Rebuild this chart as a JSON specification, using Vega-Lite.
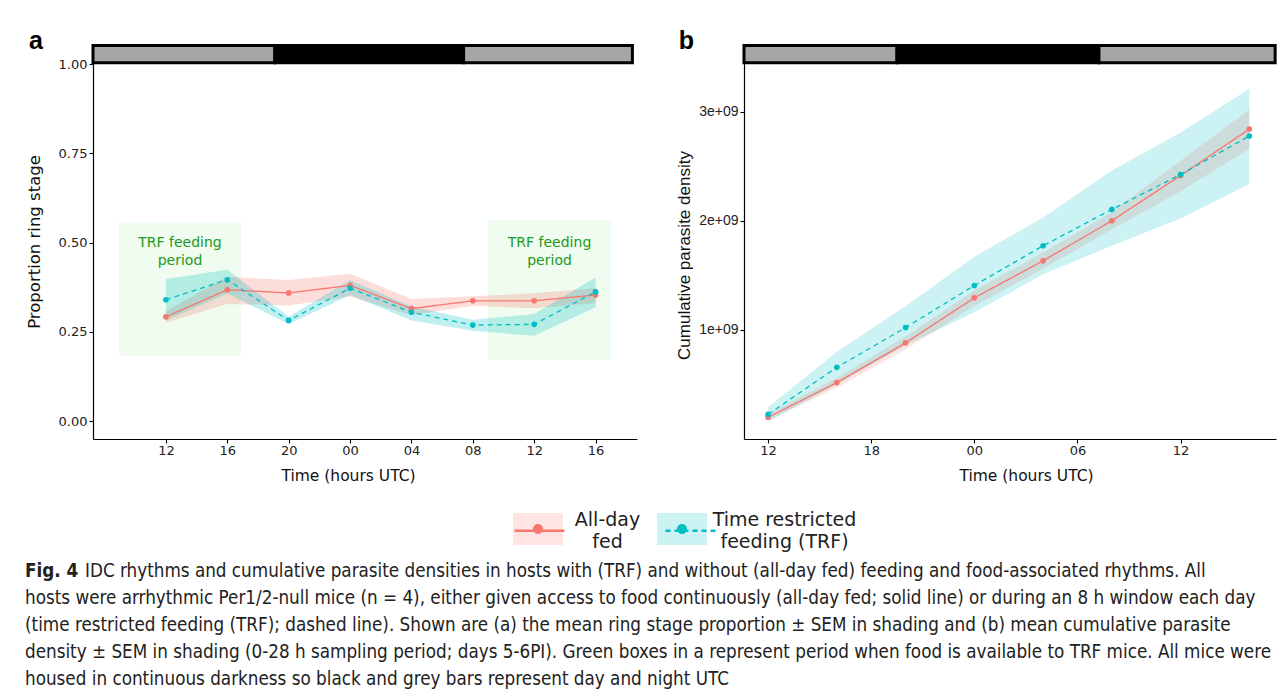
{
  "$schema": "https://vega.github.io/schema/vega-lite/v6.json",
  "padding": {"left": 25, "top": 29, "right": 5, "bottom": 5},
  "background": "white",
  "datasets": {
    "ring": [
      {"t": 0, "group": "All-day fed", "mean": 0.292, "lo": 0.276, "hi": 0.308},
      {"t": 4, "group": "All-day fed", "mean": 0.368, "lo": 0.328, "hi": 0.404},
      {"t": 8, "group": "All-day fed", "mean": 0.359, "lo": 0.324, "hi": 0.395},
      {"t": 12, "group": "All-day fed", "mean": 0.380, "lo": 0.349, "hi": 0.413},
      {"t": 16, "group": "All-day fed", "mean": 0.315, "lo": 0.297, "hi": 0.342},
      {"t": 20, "group": "All-day fed", "mean": 0.337, "lo": 0.323, "hi": 0.350},
      {"t": 24, "group": "All-day fed", "mean": 0.337, "lo": 0.316, "hi": 0.358},
      {"t": 28, "group": "All-day fed", "mean": 0.353, "lo": 0.331, "hi": 0.372},
      {"t": 0, "group": "Time restricted feeding (TRF)", "mean": 0.340, "lo": 0.282, "hi": 0.398},
      {"t": 4, "group": "Time restricted feeding (TRF)", "mean": 0.396, "lo": 0.358, "hi": 0.424},
      {"t": 8, "group": "Time restricted feeding (TRF)", "mean": 0.282, "lo": 0.272, "hi": 0.292},
      {"t": 12, "group": "Time restricted feeding (TRF)", "mean": 0.372, "lo": 0.353, "hi": 0.395},
      {"t": 16, "group": "Time restricted feeding (TRF)", "mean": 0.305, "lo": 0.282, "hi": 0.321},
      {"t": 20, "group": "Time restricted feeding (TRF)", "mean": 0.269, "lo": 0.253, "hi": 0.284},
      {"t": 24, "group": "Time restricted feeding (TRF)", "mean": 0.271, "lo": 0.239, "hi": 0.300},
      {"t": 28, "group": "Time restricted feeding (TRF)", "mean": 0.362, "lo": 0.319, "hi": 0.402}
    ],
    "cum": [
      {"t": 0, "group": "All-day fed", "mean": 1.99e8, "lo": 1.7e8, "hi": 2.3e8},
      {"t": 4, "group": "All-day fed", "mean": 5.17e8, "lo": 4.7e8, "hi": 5.6e8},
      {"t": 8, "group": "All-day fed", "mean": 8.81e8, "lo": 8.2e8, "hi": 9.4e8},
      {"t": 12, "group": "All-day fed", "mean": 1.294e9, "lo": 1.22e9, "hi": 1.36e9},
      {"t": 16, "group": "All-day fed", "mean": 1.633e9, "lo": 1.56e9, "hi": 1.71e9},
      {"t": 20, "group": "All-day fed", "mean": 2.0e9, "lo": 1.92e9, "hi": 2.08e9},
      {"t": 24, "group": "All-day fed", "mean": 2.415e9, "lo": 2.27e9, "hi": 2.55e9},
      {"t": 28, "group": "All-day fed", "mean": 2.84e9, "lo": 2.66e9, "hi": 3.02e9},
      {"t": 0, "group": "Time restricted feeding (TRF)", "mean": 2.26e8, "lo": 1.6e8, "hi": 2.9e8},
      {"t": 4, "group": "Time restricted feeding (TRF)", "mean": 6.57e8, "lo": 5.0e8, "hi": 8.0e8},
      {"t": 8, "group": "Time restricted feeding (TRF)", "mean": 1.021e9, "lo": 8.6e8, "hi": 1.22e9},
      {"t": 12, "group": "Time restricted feeding (TRF)", "mean": 1.407e9, "lo": 1.16e9, "hi": 1.67e9},
      {"t": 16, "group": "Time restricted feeding (TRF)", "mean": 1.771e9, "lo": 1.51e9, "hi": 2.03e9},
      {"t": 20, "group": "Time restricted feeding (TRF)", "mean": 2.104e9, "lo": 1.77e9, "hi": 2.46e9},
      {"t": 24, "group": "Time restricted feeding (TRF)", "mean": 2.424e9, "lo": 2.02e9, "hi": 2.81e9},
      {"t": 28, "group": "Time restricted feeding (TRF)", "mean": 2.777e9, "lo": 2.34e9, "hi": 3.21e9}
    ],
    "trfBoxes": [
      {"start": -3.06, "end": 4.9, "low": 0.183, "high": 0.557, "mid": 0.92, "label": "TRF feeding\nperiod"},
      {"start": 21.0, "end": 29.0, "low": 0.171, "high": 0.563, "mid": 25.0, "label": "TRF feeding\nperiod"}
    ],
    "phaseA": [
      {"start": -4.75, "end": 7.1, "phase": "day"},
      {"start": 7.1, "end": 19.4, "phase": "night"},
      {"start": 19.4, "end": 30.4, "phase": "day"}
    ],
    "phaseB": [
      {"start": -1.4, "end": 7.5, "phase": "day"},
      {"start": 7.5, "end": 19.25, "phase": "night"},
      {"start": 19.25, "end": 29.5, "phase": "day"}
    ],
    "figLabel": [{"line": 1, "text": "Fig. 4"}],
    "caption": [
      {"line": 1, "text": "IDC rhythms and cumulative parasite densities in hosts with (TRF) and without (all-day fed) feeding and food-associated rhythms. All"},
      {"line": 2, "text": "hosts were arrhythmic Per1/2-null mice (n = 4), either given access to food continuously (all-day fed; solid line) or during an 8 h window each day"},
      {"line": 3, "text": "(time restricted feeding (TRF); dashed line). Shown are (a) the mean ring stage proportion ± SEM in shading and (b) mean cumulative parasite"},
      {"line": 4, "text": "density ± SEM in shading (0-28 h sampling period; days 5-6PI). Green boxes in a represent period when food is available to TRF mice. All mice were"},
      {"line": 5, "text": "housed in continuous darkness so black and grey bars represent day and night UTC"}
    ]
  },
  "vconcat": [
    {
      "hconcat": [
        {
          "width": 544,
          "height": 395,
          "title": {"text": "a", "anchor": "start", "frame": "bounds", "font": "Liberation Sans", "fontSize": 25, "fontWeight": "bold", "color": "black", "offset": -30, "baseline": "alphabetic", "dx": 3},
          "layer": [
            {
              "data": {"name": "trfBoxes"},
              "mark": {"type": "rect", "color": "#effcef"},
              "encoding": {
                "x": {"field": "start", "type": "quantitative",
                      "scale": {"domain": [-4.75, 30.7], "nice": false, "zero": false},
                      "axis": {"title": "Time (hours UTC)", "values": [0, 4, 8, 12, 16, 20, 24, 28], "labelExpr": "format((12 + datum.value) % 24, '02d')", "labelFont": "DejaVu Sans", "labelFontSize": 13, "titleFont": "DejaVu Sans", "titleFontSize": 15.5, "titleX": 255, "labelPadding": 1, "titlePadding": 11, "labelFlush": false}},
                "x2": {"field": "end"},
                "y": {"field": "low", "type": "quantitative",
                      "scale": {"domain": [-0.05, 1.056], "nice": false, "zero": false},
                      "axis": {"title": "Proportion ring stage", "values": [0, 0.25, 0.5, 0.75, 1], "format": ".2f", "labelFont": "DejaVu Sans", "labelFontSize": 13, "titleFont": "DejaVu Sans", "titleFontSize": 16.5, "titlePadding": 16, "labelPadding": 2}},
                "y2": {"field": "high"}
              }
            },
            {
              "data": {"name": "trfBoxes"},
              "mark": {"type": "text", "lineBreak": "\n", "color": "#229922", "font": "DejaVu Sans", "fontSize": 14, "lineHeight": 18, "baseline": "middle"},
              "encoding": {
                "x": {"field": "mid", "type": "quantitative"},
                "y": {"datum": 0.5, "type": "quantitative"},
                "text": {"field": "label"}
              }
            },
            {
              "data": {"name": "ring"},
              "mark": {"type": "area", "fillOpacity": 0.25},
              "encoding": {
                "x": {"field": "t", "type": "quantitative"},
                "y": {"field": "lo", "type": "quantitative"},
                "y2": {"field": "hi"},
                "fill": {"field": "group", "type": "nominal",
                         "scale": {"domain": ["All-day fed", "Time restricted feeding (TRF)"], "range": ["#F8766D", "#00BFC4"]},
                         "legend": {"title": null, "orient": "none", "legendX": 420, "legendY": 460, "direction": "horizontal", "padding": 0, "symbolType": "M-1,-0.64H1V0.64H-1Z", "symbolSize": 2500, "symbolOpacity": 0.2, "symbolStrokeWidth": 0, "labelExpr": "''", "labelOffset": 8, "columnPadding": 86}}
              }
            },
            {
              "data": {"name": "ring"},
              "mark": {"type": "line", "strokeWidth": 1.3},
              "encoding": {
                "x": {"field": "t", "type": "quantitative"},
                "y": {"field": "mean", "type": "quantitative"},
                "stroke": {"field": "group", "type": "nominal",
                           "scale": {"range": ["#F8766D", "#00BFC4"]},
                           "legend": {"title": null, "orient": "none", "legendX": 420, "legendY": 460, "direction": "horizontal", "padding": 0, "symbolType": "stroke", "symbolSize": 2500, "symbolStrokeWidth": 2.5, "labelFont": "DejaVu Sans", "labelFontSize": 19, "labelColor": "#222", "labelOffset": 8, "labelAlign": "center", "labelLimit": 400, "columnPadding": 19,
                                      "labelExpr": "datum.label == 'All-day fed' ? ['All-day', 'fed'] : ['Time restricted', 'feeding (TRF)']",
                                      "encode": {"labels": {"update": {"dx": {"signal": "datum.value == 'All-day fed' ? 33.5 : 59.5"}, "dy": {"value": -11}, "lineHeight": {"value": 22}}}}}},
                "strokeDash": {"field": "group", "type": "nominal", "scale": {"range": [[1, 0], [5, 4]]}}
              }
            },
            {
              "data": {"name": "ring"},
              "mark": {"type": "point", "filled": true, "size": 32, "opacity": 1},
              "encoding": {
                "x": {"field": "t", "type": "quantitative"},
                "y": {"field": "mean", "type": "quantitative"},
                "color": {"field": "group", "type": "nominal",
                          "scale": {"domain": {"unionWith": ["All-day fed", "Time restricted feeding (TRF)"]}, "range": ["#F8766D", "#00BFC4"]},
                          "legend": {"title": null, "orient": "none", "legendX": 420, "legendY": 460, "direction": "horizontal", "padding": 0, "symbolType": "M-0.2,0A0.2,0.2 0 1,0 0.2,0A0.2,0.2 0 1,0 -0.2,0Z", "symbolSize": 2500, "symbolOpacity": 1, "symbolStrokeWidth": 0, "labelExpr": "''", "labelOffset": 8, "columnPadding": 86}}
              }
            },
            {
              "data": {"name": "phaseA"},
              "mark": {"type": "rect", "stroke": "black", "strokeWidth": 3},
              "encoding": {
                "x": {"field": "start", "type": "quantitative"},
                "x2": {"field": "end"},
                "y": {"datum": 1.0034, "type": "quantitative"},
                "y2": {"datum": 1.0518},
                "fill": {"condition": {"test": "datum.phase == 'night'", "value": "black"}, "value": "#a6a6a6"}
              }
            }
          ]
        },
        {
          "width": 532,
          "height": 395,
          "title": {"text": "b", "anchor": "start", "frame": "bounds", "font": "Liberation Sans", "fontSize": 25, "fontWeight": "bold", "color": "black", "offset": -30, "baseline": "alphabetic", "dx": 3},
          "layer": [
            {
              "data": {"name": "cum"},
              "mark": {"type": "area", "fillOpacity": 0.2},
              "encoding": {
                "x": {"field": "t", "type": "quantitative",
                      "scale": {"domain": [-1.4, 29.55], "nice": false, "zero": false},
                      "axis": {"title": "Time (hours UTC)", "values": [0, 6, 12, 18, 24], "labelExpr": "format((12 + datum.value) % 24, '02d')", "labelFont": "DejaVu Sans", "labelFontSize": 13, "titleFont": "DejaVu Sans", "titleFontSize": 15.5, "titleX": 282, "labelPadding": 1, "titlePadding": 11, "labelFlush": false}},
                "y": {"field": "lo", "type": "quantitative",
                      "scale": {"domain": [0, 3.62e9], "nice": false, "zero": false},
                      "axis": {"title": "Cumulative parasite density", "values": [1e9, 2e9, 3e9], "labelExpr": "format(datum.value / 1e9, 'd') + 'e+09'", "labelFont": "Liberation Sans", "labelFontSize": 14, "titleFont": "Liberation Sans", "titleFontSize": 17, "titleY": 211, "titlePadding": 5, "labelPadding": 2}},
                "y2": {"field": "hi"},
                "fill": {"field": "group", "type": "nominal", "scale": {"domain": ["All-day fed", "Time restricted feeding (TRF)"], "range": ["#F8766D", "#00BFC4"]}}
              }
            },
            {
              "data": {"name": "cum"},
              "mark": {"type": "line", "strokeWidth": 1.3},
              "encoding": {
                "x": {"field": "t", "type": "quantitative"},
                "y": {"field": "mean", "type": "quantitative"},
                "stroke": {"field": "group", "type": "nominal"},
                "strokeDash": {"field": "group", "type": "nominal"}
              }
            },
            {
              "data": {"name": "cum"},
              "mark": {"type": "point", "filled": true, "size": 32, "opacity": 1},
              "encoding": {
                "x": {"field": "t", "type": "quantitative"},
                "y": {"field": "mean", "type": "quantitative"},
                "color": {"field": "group", "type": "nominal", "scale": {"domain": {"unionWith": ["All-day fed", "Time restricted feeding (TRF)"]}}}
              }
            },
            {
              "data": {"name": "phaseB"},
              "mark": {"type": "rect", "stroke": "black", "strokeWidth": 3},
              "encoding": {
                "x": {"field": "start", "type": "quantitative"},
                "x2": {"field": "end"},
                "y": {"datum": 3.448e9, "type": "quantitative"},
                "y2": {"datum": 3.606e9},
                "fill": {"condition": {"test": "datum.phase == 'night'", "value": "black"}, "value": "#a6a6a6"}
              }
            }
          ]
        }
      ],
      "spacing": 38,
      "resolve": {"scale": {"x": "independent", "y": "independent", "fill": "shared", "stroke": "shared", "strokeDash": "shared", "color": "shared"}}
    },
    {
      "width": 1180,
      "height": 135,
      "layer": [
        {
          "data": {"name": "figLabel"},
          "mark": {"type": "text", "align": "left", "baseline": "middle", "font": "Liberation Sans Narrow, DejaVu Sans Condensed, sans-serif", "fontSize": 18.7, "fontWeight": "bold", "color": "#222", "dx": -68},
          "encoding": {
            "x": {"datum": 0, "type": "quantitative", "scale": {"domain": [0, 1]}, "axis": null},
            "y": {"field": "line", "type": "quantitative", "scale": {"domain": [0.5, 5.5], "reverse": true}, "axis": null},
            "text": {"field": "text"}
          }
        },
        {
          "data": {"name": "caption"},
          "transform": [{"filter": "datum.line == 1"}],
          "mark": {"type": "text", "align": "left", "baseline": "middle", "font": "Liberation Sans Narrow, DejaVu Sans Condensed, sans-serif", "fontSize": 18.7, "color": "#222", "dx": -8},
          "encoding": {
            "x": {"datum": 0, "type": "quantitative"},
            "y": {"field": "line", "type": "quantitative"},
            "text": {"field": "text"}
          }
        },
        {
          "data": {"name": "caption"},
          "transform": [{"filter": "datum.line > 1"}],
          "mark": {"type": "text", "align": "left", "baseline": "middle", "font": "Liberation Sans Narrow, DejaVu Sans Condensed, sans-serif", "fontSize": 18.7, "color": "#222", "dx": -68},
          "encoding": {
            "x": {"datum": 0, "type": "quantitative"},
            "y": {"field": "line", "type": "quantitative"},
            "text": {"field": "text"}
          }
        }
      ]
    }
  ],
  "spacing": 73,
  "resolve": {"scale": {"x": "independent", "y": "independent"}},
  "config": {
    "view": {"stroke": null},
    "font": "DejaVu Sans",
    "axis": {"grid": false, "domainColor": "black", "domainWidth": 1.2, "tickColor": "black", "tickWidth": 1.1, "tickSize": 4, "labelColor": "#222", "titleColor": "#111", "titleFontWeight": "normal"}
  }
}
